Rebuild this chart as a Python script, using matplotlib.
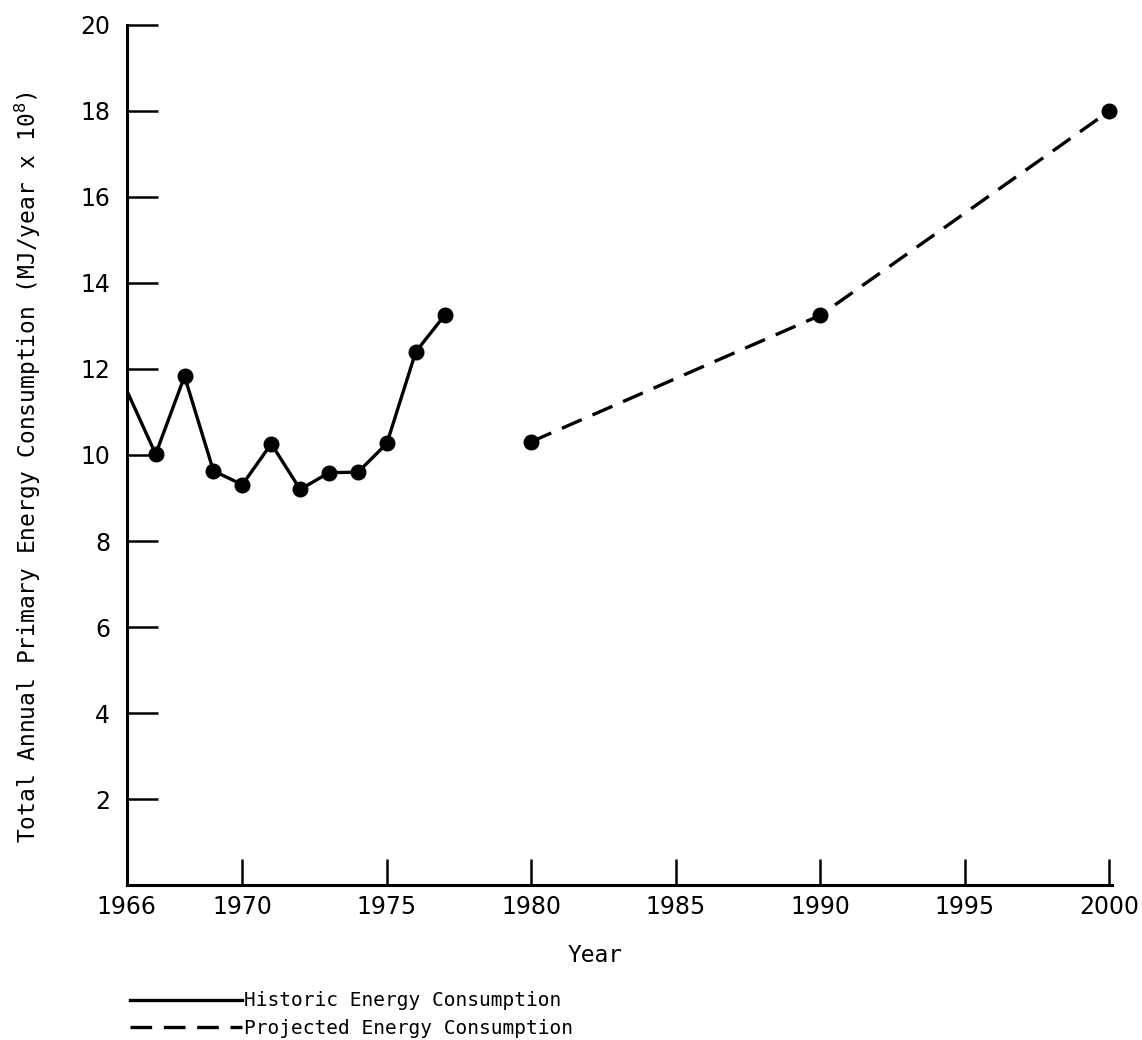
import matplotlib
matplotlib.use("Agg")
import matplotlib.pyplot as plt

# historic data (markers drawn from 1967 on, line starts at the axis in 1966)
hist_years = [1966, 1967, 1968, 1969, 1970, 1971, 1972, 1973, 1974, 1975, 1976, 1977]
hist_vals = [11.5, 10.02, 11.83, 9.63, 9.31, 10.26, 9.2, 9.59, 9.6, 10.27, 12.4, 13.25]

proj_years = [1980, 1990, 2000]
proj_vals = [10.31, 13.25, 18.0]

xticks = [1966, 1970, 1975, 1980, 1985, 1990, 1995, 2000]
yticks = [2, 4, 6, 8, 10, 12, 14, 16, 18, 20]

mono = "DejaVu Sans Mono"

fig = plt.figure(figsize=(11.42, 10.4), dpi=100)
ax = fig.add_axes([0.111, 0.149, 0.863, 0.827])

ax.plot(hist_years, hist_vals, color="k", lw=2.4, solid_joinstyle="round",
        label="Historic Energy Consumption")
ax.plot(hist_years[1:], hist_vals[1:], "o", color="k", ms=10.5, clip_on=False)
ax.plot(proj_years, proj_vals, color="k", lw=2.4, ls=(0, (6.5, 3.5)),
        label="Projected Energy Consumption")
ax.plot(proj_years, proj_vals, "o", color="k", ms=10.5, clip_on=False)

ax.set_xlim(1966, 2000.1)
ax.set_ylim(0, 20)
ax.set_xticks(xticks)
ax.set_yticks(yticks)
ax.spines["top"].set_visible(False)
ax.spines["right"].set_visible(False)
ax.spines["left"].set_linewidth(2.2)
ax.spines["bottom"].set_linewidth(2.2)
ax.tick_params(axis="y", direction="in", length=22, width=1.8, pad=12, labelsize=17)
ax.tick_params(axis="x", direction="in", length=19, width=1.8, pad=7, labelsize=17)

ax.set_xlabel("Year", fontsize=16.5, family=mono)
ax.xaxis.set_label_coords(0.475, -0.068)
ax.set_ylabel("Total Annual Primary Energy Consumption (MJ/year x 10$^{8}$)",
              fontsize=16.5, family=mono)
ax.yaxis.set_label_coords(-0.085, 0.486)

leg = fig.legend(loc="upper left", bbox_to_anchor=(0.105, 0.056),
                 frameon=False, borderpad=0, handlelength=5.8, handletextpad=0.1,
                 labelspacing=0.45, prop={"family": mono, "size": 14})

fig.savefig("out.png", dpi=100)
